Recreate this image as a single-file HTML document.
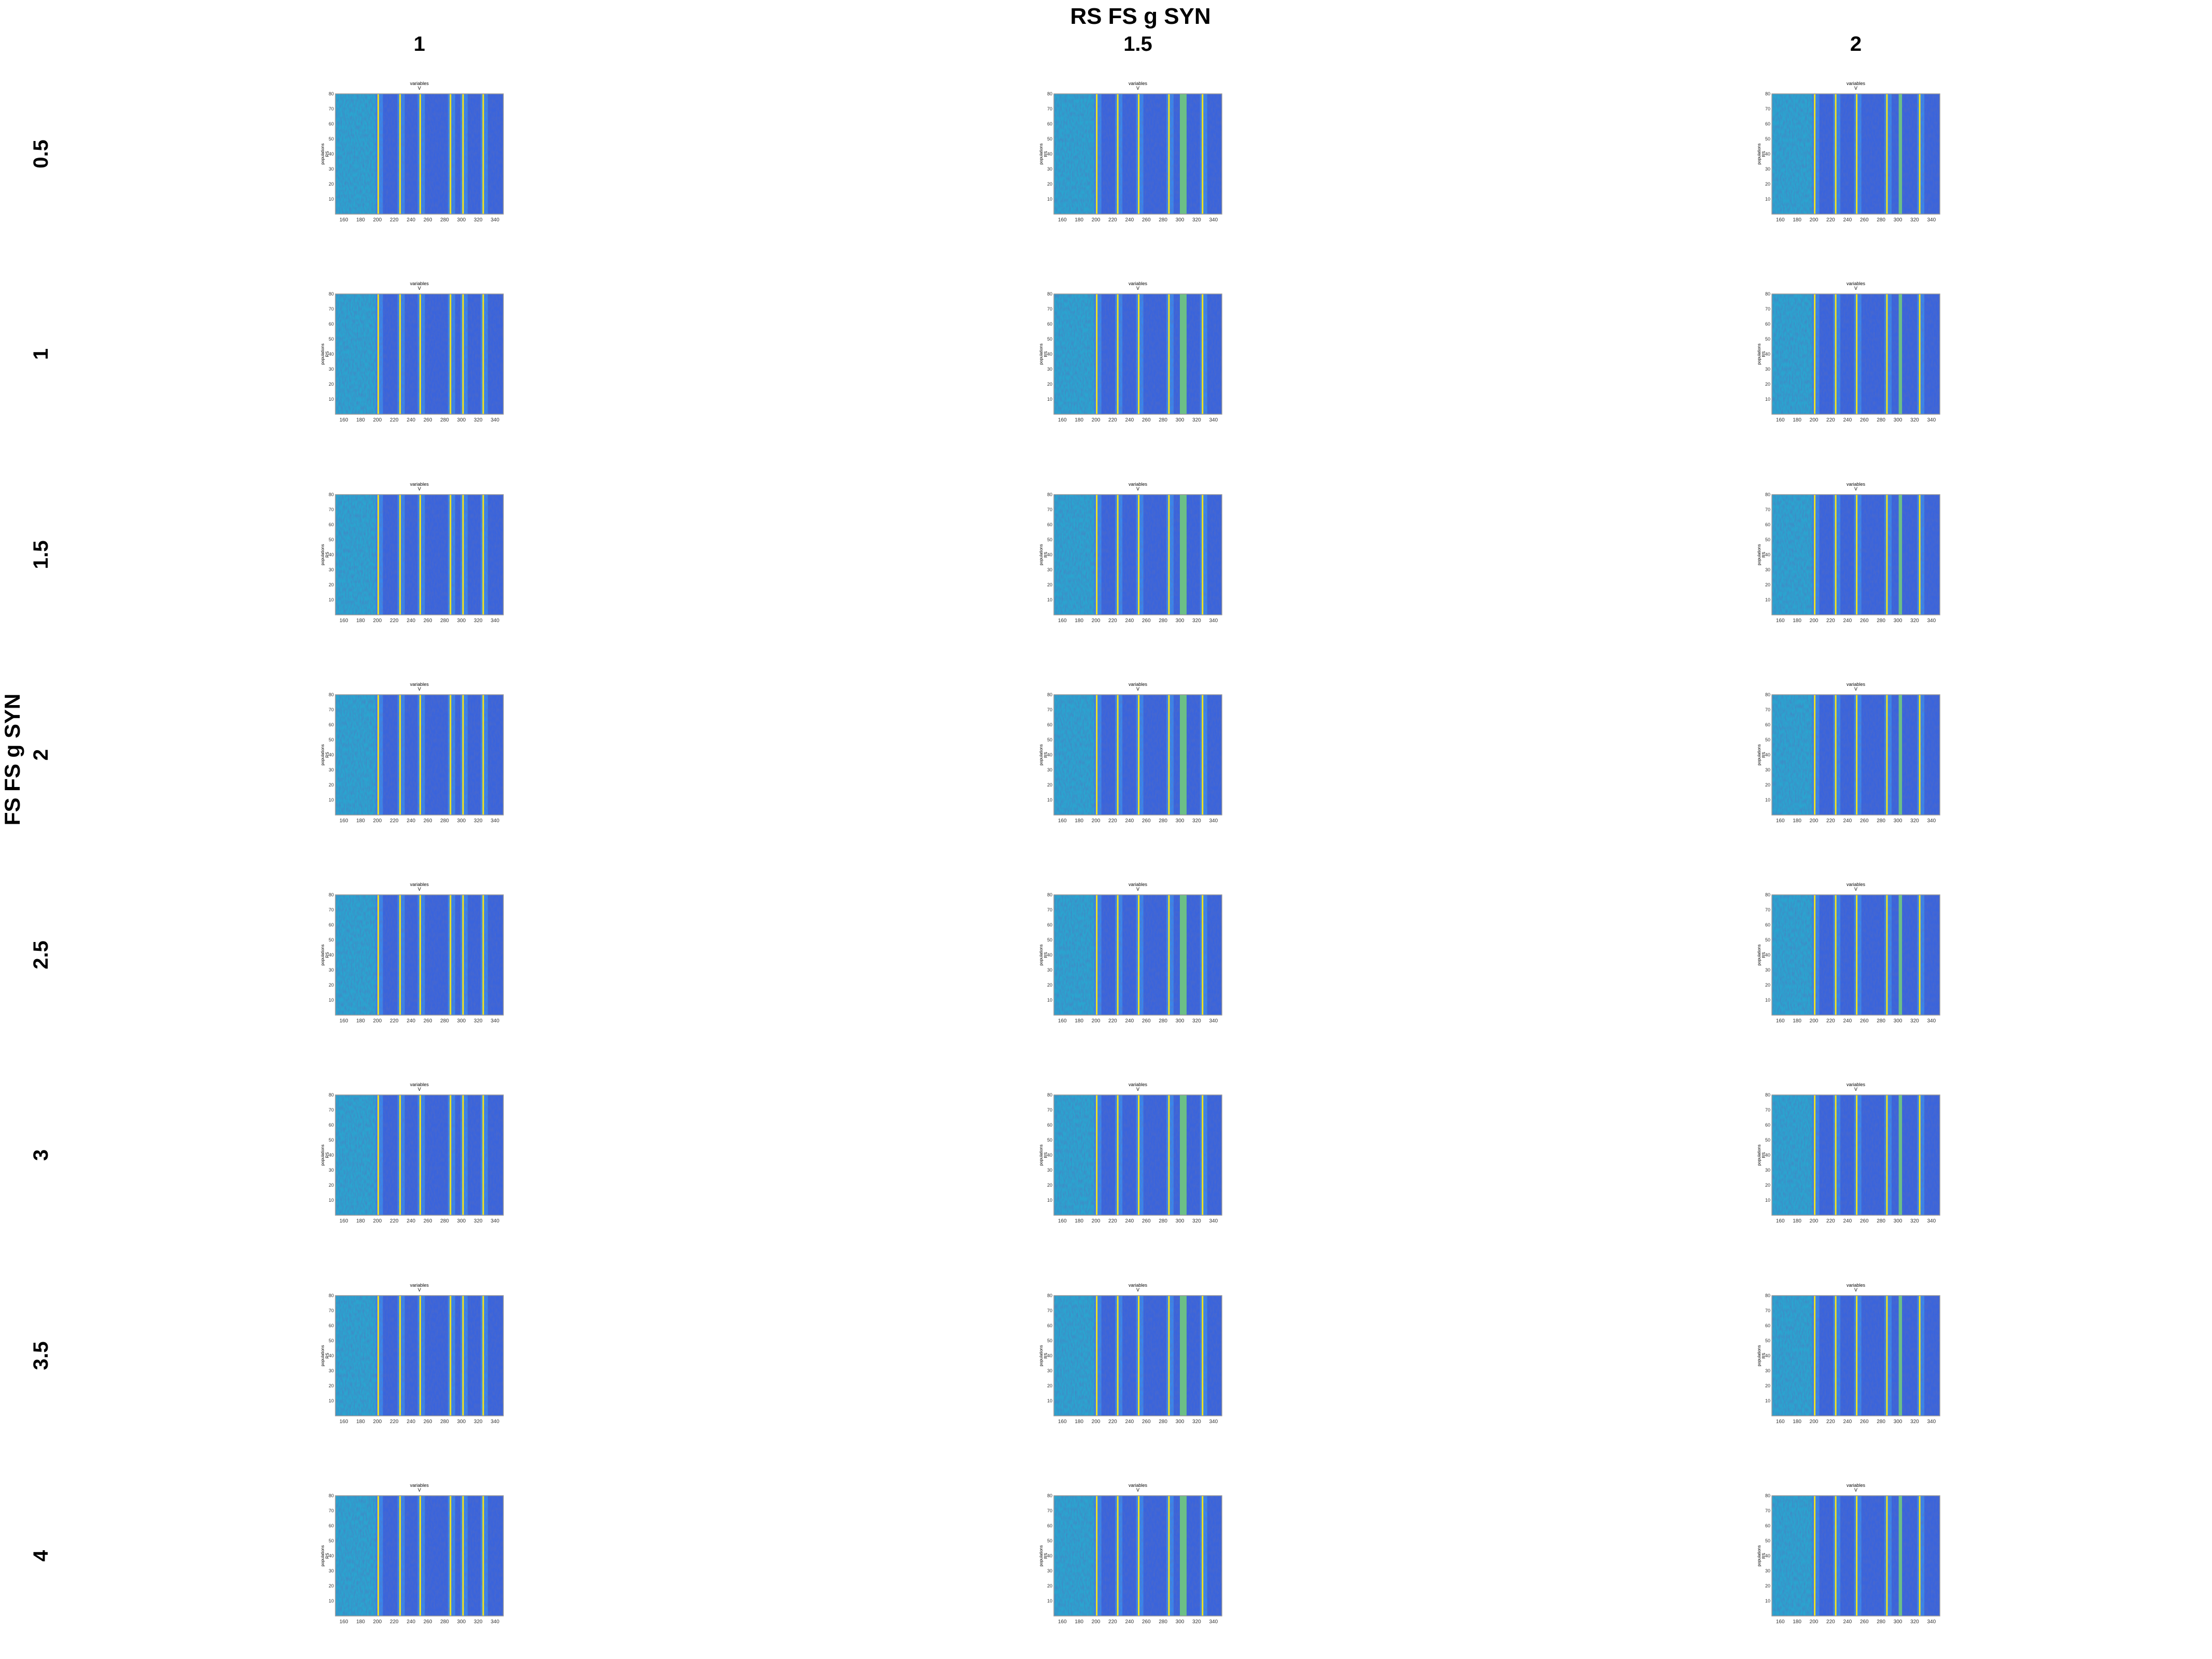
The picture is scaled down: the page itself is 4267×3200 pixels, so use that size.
<!DOCTYPE html>
<html><head><meta charset="utf-8"><style>
body{margin:0;background:#fff;}
svg{display:block;font-family:"Liberation Sans",sans-serif;}
</style></head><body>
<svg id="fig" width="4267" height="3200" viewBox="0 0 4267 3200" xmlns="http://www.w3.org/2000/svg">
<defs>
<filter id="noise" x="0" y="0" width="1" height="1">
<feTurbulence type="fractalNoise" baseFrequency="0.35 0.12" numOctaves="2" seed="3" result="t"/>
<feColorMatrix in="t" type="matrix" values="0 0 0 0 0.1  0 0 0 0 0.15  0 0 0 0 0.5  0 0 0 0.9 -0.3" result="c"/>
<feComposite in="c" in2="SourceGraphic" operator="in"/>
</filter>
</defs>
<text x="2200" y="46" font-size="44" font-weight="bold" text-anchor="middle">RS FS g SYN</text>
<text transform="translate(38,1465) rotate(-90)" font-size="42" font-weight="bold" text-anchor="middle">FS FS g SYN</text>
<g id="panels"></g>
</svg>
<script>
const colLabels = ["1", "1.5", "2"];
const rowLabels = ["0.5", "1", "1.5", "2", "2.5", "3", "3.5", "4"];
const xTicks = [160, 180, 200, 220, 240, 260, 280, 300, 320, 340];
const yTicks = [10, 20, 30, 40, 50, 60, 70, 80];
const spikesCol1 = [201, 227, 251, 287, 302, 326];
const spikesCol2 = [201, 226, 251, 287, 327];
const spikesCol3 = [201, 226, 251, 287, 326];
const wideBandCol2 = [300, 308];
const wideBandCol3 = [301, 305];
const xDomain = [150, 350];
const yDomain = [0, 80];

const NS = "http://www.w3.org/2000/svg";
const colX = [647, 2033, 3418];
const rowY = [181, 567, 954, 1340, 1726, 2112, 2499, 2885];
const W = 324, H = 232;
const spikes = [spikesCol1, spikesCol2, spikesCol3];
const bands = [null, wideBandCol2, wideBandCol3];
const root = document.getElementById("panels");
function mk(tag, attrs, parent){const e=document.createElementNS(NS,tag);for(const k in attrs)e.setAttribute(k,attrs[k]);parent.appendChild(e);return e;}

colLabels.forEach((c,i)=>{
  const t=mk("text",{x:colX[i]+W/2,y:98,"font-size":40,"font-weight":"bold","text-anchor":"middle"},document.getElementById("fig"));
  t.textContent=c;
  
  
});
rowLabels.forEach((r,j)=>{
  const cy=rowY[j]+H/2;
  const t=mk("text",{transform:`translate(92,${cy}) rotate(-90)`,"font-size":40,"font-weight":"bold","text-anchor":"middle"},document.getElementById("fig"));
  t.textContent=r;
  
  
});

for(let i=0;i<3;i++){
  for(let j=0;j<8;j++){
    const x0=colX[i], y0=rowY[j];
    const sx=v=>x0+(v-xDomain[0])/(xDomain[1]-xDomain[0])*W;
    const sy=v=>y0+H-(v-yDomain[0])/(yDomain[1]-yDomain[0])*H;
    const g=mk("g",{},root);
    
    
    const sp=spikes[i];
    const bg=mk("rect",{x:x0,y:y0,width:W,height:H,fill:"#3a64dc"},g);
    
    
    const pre=mk("rect",{x:x0,y:y0,width:sx(sp[0])-x0,height:H,fill:"#2aa4cf"},g);
    
    
    sp.forEach(s=>{
      const gl=mk("rect",{x:sx(s)-5,y:y0,width:14,height:H,fill:"#3a86ea"},g);
      
      
    });
    const nz=mk("rect",{x:x0,y:y0,width:W,height:H,fill:"#000",filter:"url(#noise)"},g);
    
    
    if(bands[i]){
      const b=mk("rect",{x:sx(bands[i][0]),y:y0,width:sx(bands[i][1])-sx(bands[i][0]),height:H,fill:"#6cbf86"},g);
      
      
    }
    sp.forEach(s=>{
      const l=mk("rect",{x:sx(s)-1.5,y:y0,width:3,height:H,fill:"#f2e31c"},g);
      
      
    });
    const fr=mk("rect",{x:x0,y:y0,width:W,height:H,fill:"none",stroke:"#999",'stroke-width':1.5},g);
    
    
    xTicks.forEach(v=>{
      const t=mk("text",{x:sx(v),y:y0+H+14,"font-size":10,"text-anchor":"middle",fill:"#333"},g);
      t.textContent=v;
      
      
    });
    yTicks.forEach(v=>{
      const t=mk("text",{x:x0-3,y:sy(v)+3,"font-size":9,"text-anchor":"end",fill:"#333"},g);
      t.textContent=v;
      
      
    });
    const ti=mk("text",{x:x0+W/2,y:y0-17,"font-size":9,"text-anchor":"middle"},g);
    ti.textContent="variables";
    
    
    const ti2=mk("text",{x:x0+W/2,y:y0-8,"font-size":9,"text-anchor":"middle"},g);
    ti2.textContent="V";
    
    
    const yl=mk("text",{transform:`translate(${x0-22},${y0+H/2}) rotate(-90)`,"font-size":8,"text-anchor":"middle"},g);
    yl.textContent="populations";
    
    
    const yl2=mk("text",{transform:`translate(${x0-13},${y0+H/2}) rotate(-90)`,"font-size":8,"text-anchor":"middle"},g);
    yl2.textContent="RS";
    
    
  }
}
</script>
</body></html>
